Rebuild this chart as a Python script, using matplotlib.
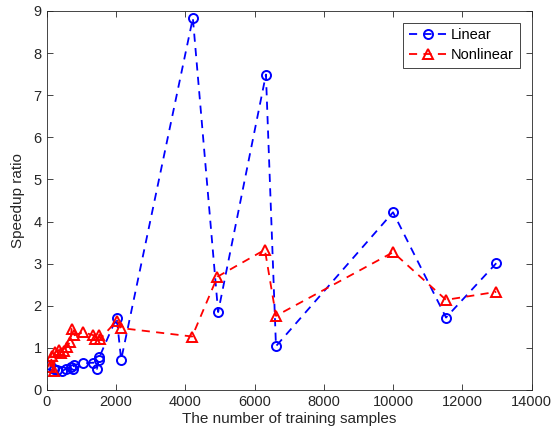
import matplotlib
matplotlib.use('Agg')
import matplotlib.pyplot as plt

# Speedup ratio vs number of training samples
lin_x = [100, 200, 300, 450, 550, 700, 760, 800, 1050, 1350, 1450, 1500, 1520,
         2020, 2150, 4220, 4950, 6330, 6620, 10000, 11530, 12980]
lin_y = [0.60, 0.50, 0.48, 0.45, 0.50, 0.55, 0.50, 0.60, 0.63, 0.65, 0.50, 0.72, 0.78,
         1.72, 0.72, 8.83, 1.85, 7.49, 1.04, 4.22, 1.72, 3.01]

nl_x = [100, 150, 200, 250, 350, 400, 500, 580, 680, 720, 800, 1050, 1350, 1400,
        1500, 1550, 2030, 2150, 4200, 4930, 6300, 6620, 10000, 11530, 12980]
nl_y = [0.55, 0.80, 0.45, 0.90, 0.95, 0.88, 0.92, 1.03, 1.15, 1.45, 1.30, 1.37, 1.30, 1.22,
        1.30, 1.22, 1.65, 1.47, 1.27, 2.69, 3.33, 1.76, 3.27, 2.14, 2.33]

plt.rcParams['font.family'] = ['Liberation Sans', 'DejaVu Sans']

fig = plt.figure(figsize=(5.52, 4.38), dpi=100)
ax = fig.add_axes([0.0846, 0.1096, 0.8784, 0.8654])

ax.plot(lin_x, lin_y, '--', color='#0000ff', lw=1.3, marker='o', ms=6.5,
        mfc='none', mew=1.4, dashes=(4.5, 3.5), label='Linear')
ax.plot(nl_x, nl_y, '--', color='#ff0000', lw=1.3, marker='^', ms=6.5,
        mfc='none', mew=1.4, dashes=(4.5, 3.5), label='Nonlinear')

ax.set_xlim(0, 14000)
ax.set_ylim(0, 9)
ax.set_xticks(range(0, 14001, 2000))
ax.set_yticks(range(0, 10))
ax.tick_params(direction='in', top=True, right=True, labelsize=10.5,
               colors='#262626', length=4, width=0.6)
for s in ax.spines.values():
    s.set_color('#262626')
    s.set_linewidth(0.6)

ax.set_xlabel('The number of training samples', fontsize=11, color='#262626', labelpad=2)
ax.set_ylabel('Speedup ratio', fontsize=11, color='#262626', labelpad=6)

leg = ax.legend(loc='upper right', fontsize=10.5, fancybox=False,
                edgecolor='#262626', framealpha=1, handlelength=2.6,
                handletextpad=0.3, borderaxespad=0.8, borderpad=0.4,
                labelspacing=0.4)
leg.get_frame().set_linewidth(0.6)

plt.savefig('out.png', dpi=100)
